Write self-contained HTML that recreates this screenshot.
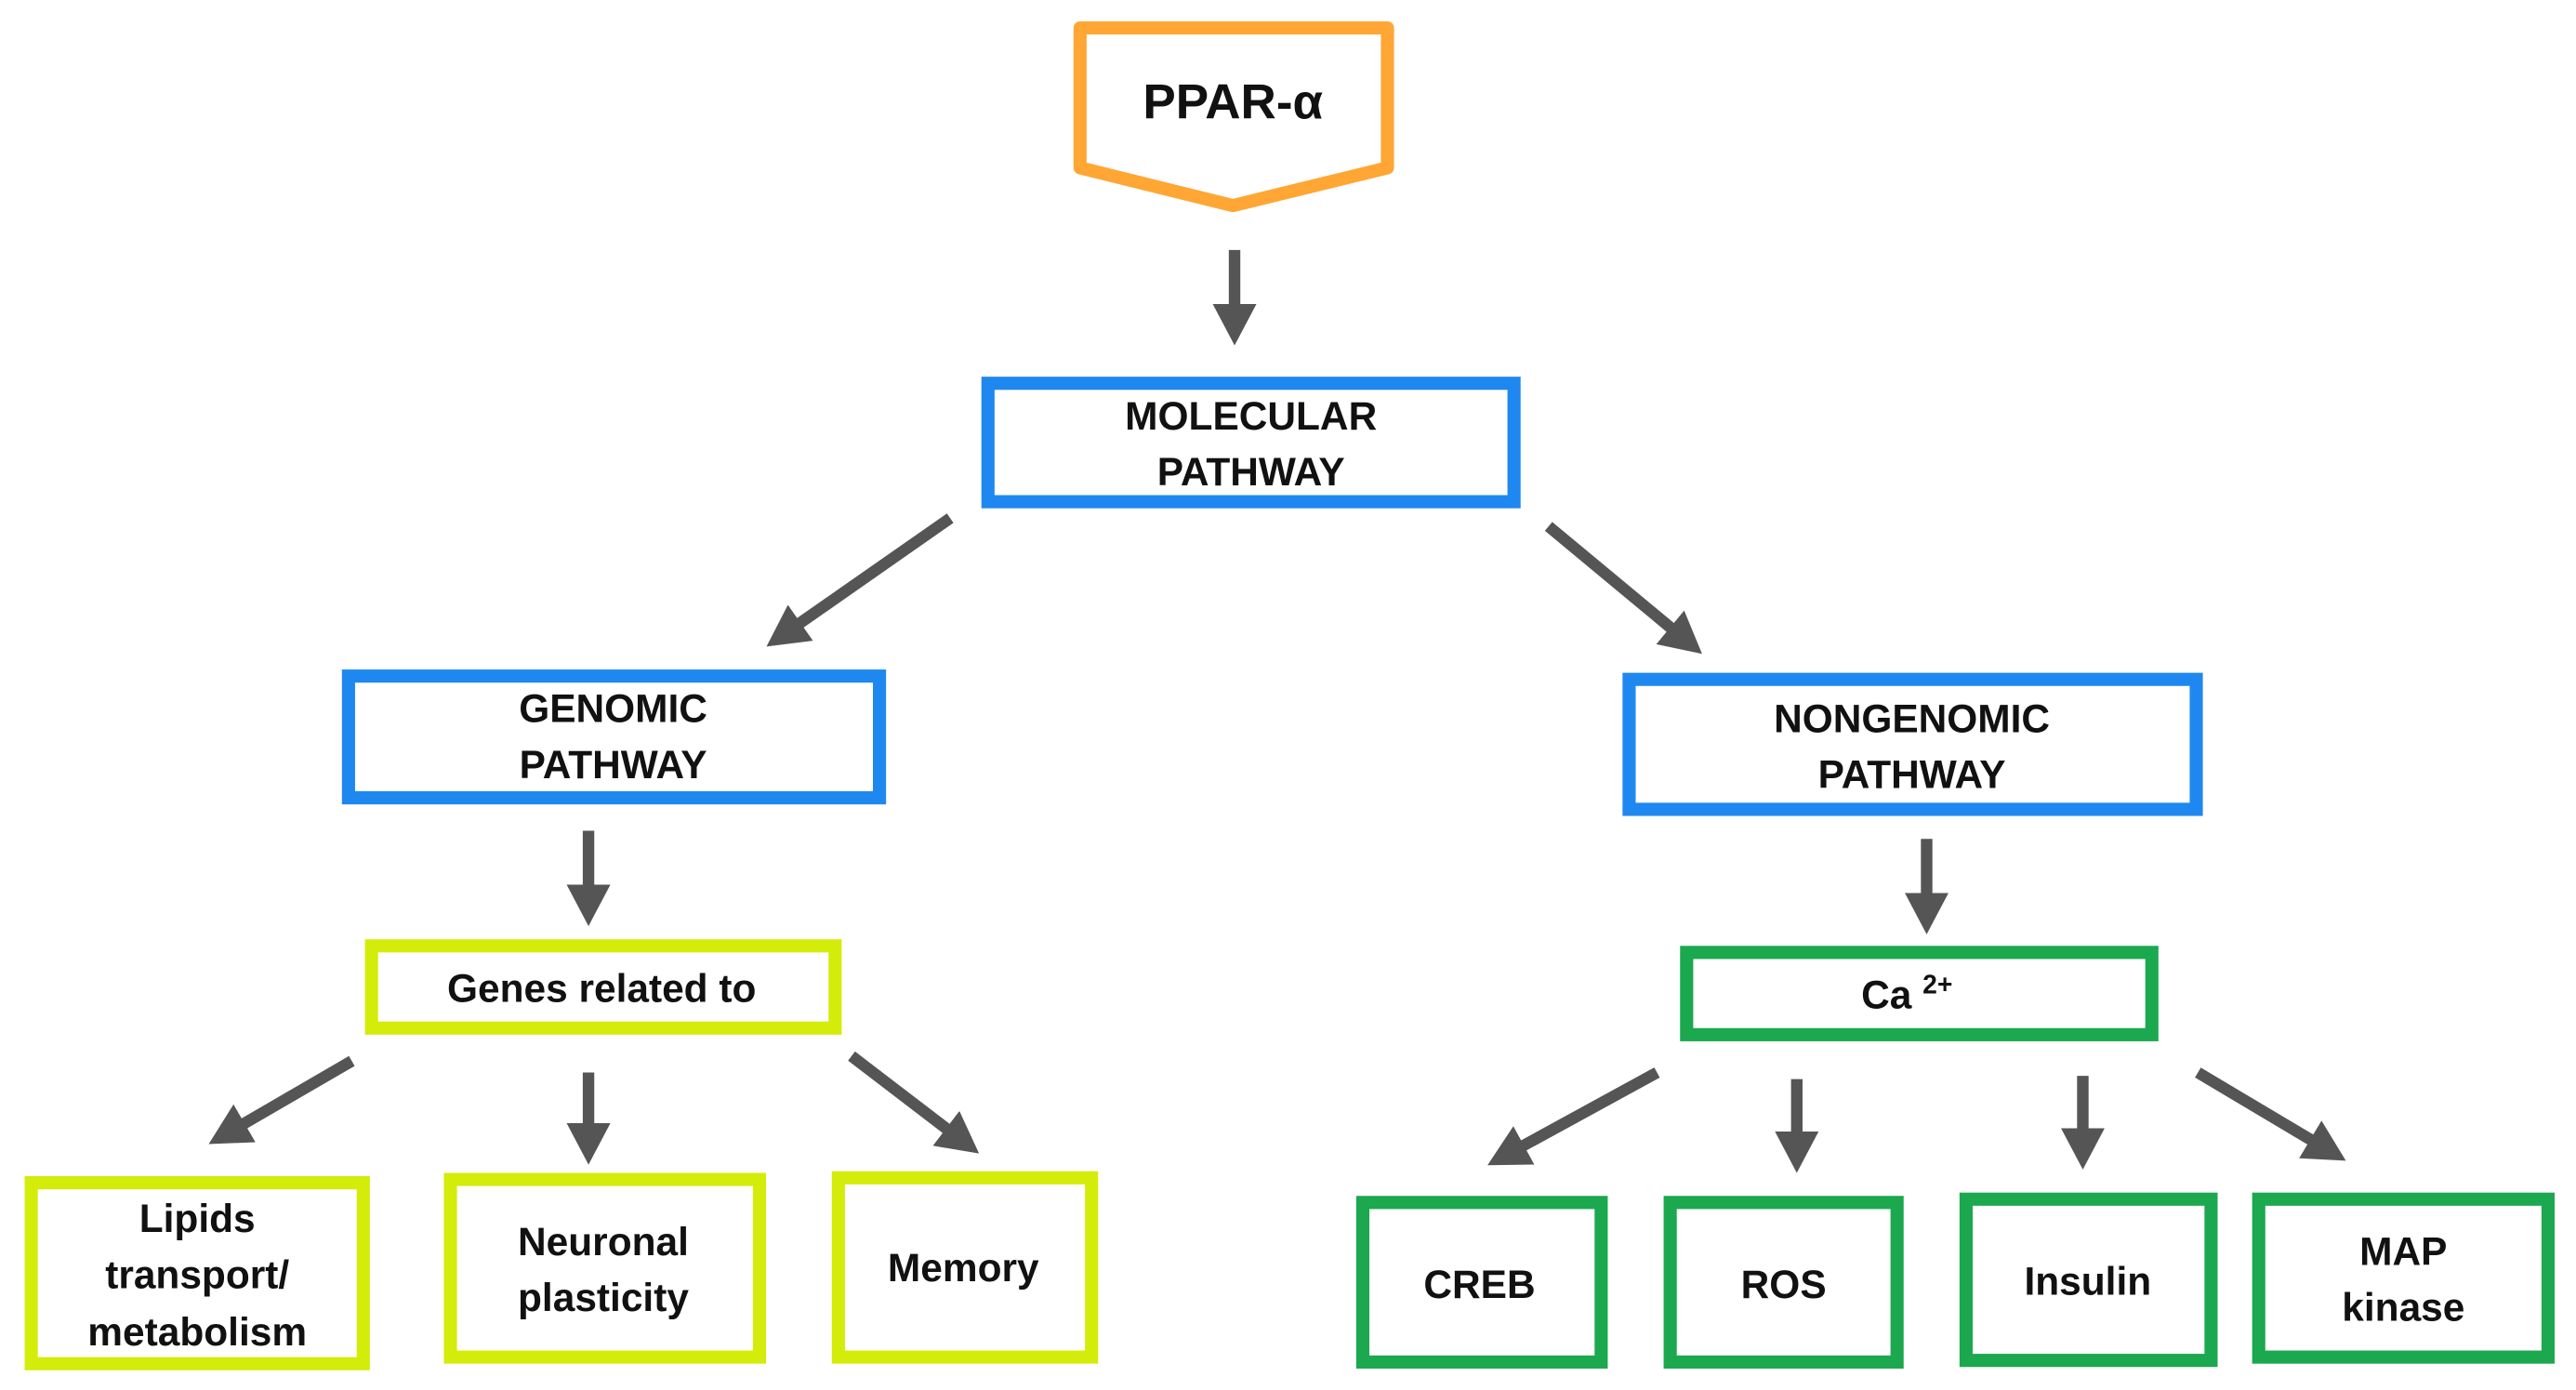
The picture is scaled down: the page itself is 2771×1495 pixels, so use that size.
<!DOCTYPE html>
<html><head><meta charset="utf-8"><style>
html,body{margin:0;padding:0;background:#fff;}
svg{display:block;}
text{font-family:"Liberation Sans",Arial,sans-serif;font-weight:bold;fill:#111;text-anchor:middle;}
</style></head><body>
<svg width="2771" height="1495" viewBox="0 0 1567 845" preserveAspectRatio="none" xmlns="http://www.w3.org/2000/svg">
<defs>
<marker id="ah" markerWidth="5" markerHeight="5" refX="2.6" refY="2.5" orient="auto" markerUnits="strokeWidth">
<path d="M0,0.6 L3.6,2.5 L0,4.4 z" fill="#555"/>
</marker>
</defs>
<g stroke="#555" stroke-width="7" fill="none" marker-end="url(#ah)">
<line x1="751" y1="152" x2="751" y2="203"/>
<line x1="578" y1="315" x2="472" y2="389"/>
<line x1="942" y1="320" x2="1030" y2="393"/>
<line x1="358" y1="505" x2="358" y2="556"/>
<line x1="1172" y1="510" x2="1172" y2="561"/>
<line x1="214" y1="645" x2="133" y2="692"/>
<line x1="358" y1="652" x2="358" y2="701"/>
<line x1="518" y1="642" x2="590" y2="697"/>
<line x1="1008" y1="652" x2="911" y2="705"/>
<line x1="1093" y1="656" x2="1093" y2="706"/>
<line x1="1267" y1="654" x2="1267" y2="704"/>
<line x1="1337" y1="652" x2="1421" y2="702"/>
</g>
<polygon points="657,17 844,17 844,102 750,125 657,102" fill="#fff" stroke="#FFA634" stroke-width="8" stroke-linejoin="round"/>
<text x="750" y="72" font-size="30">PPAR-α</text>
<g fill="#fff" stroke="#1E88F0" stroke-width="8">
<rect x="601" y="233" width="320" height="72"/>
<rect x="212" y="411" width="323" height="74"/>
<rect x="991" y="413" width="345" height="79"/>
</g>
<g fill="#fff" stroke="#D4EC0A" stroke-width="8">
<rect x="226" y="575" width="282" height="50"/>
<rect x="19" y="719" width="202" height="110"/>
<rect x="274" y="717" width="188" height="108"/>
<rect x="510" y="716" width="154" height="109"/>
</g>
<g fill="#fff" stroke="#1BA84F" stroke-width="8">
<rect x="1026" y="579" width="283" height="50"/>
<rect x="829" y="731" width="145" height="97"/>
<rect x="1016" y="731" width="138" height="97"/>
<rect x="1196" y="729" width="149" height="98"/>
<rect x="1374" y="729" width="176" height="96"/>
</g>
<g font-size="24">
<text x="761" y="261">MOLECULAR</text>
<text x="761" y="295">PATHWAY</text>
<text x="373" y="439">GENOMIC</text>
<text x="373" y="473">PATHWAY</text>
<text x="1163" y="445">NONGENOMIC</text>
<text x="1163" y="479">PATHWAY</text>
<text x="366" y="609">Genes related to</text>
<text x="1160" y="613">Ca <tspan font-size="16" dy="-9">2+</tspan></text>
<text x="120" y="749">Lipids</text>
<text x="120" y="783">transport/</text>
<text x="120" y="818">metabolism</text>
<text x="367" y="763">Neuronal</text>
<text x="367" y="797">plasticity</text>
<text x="586" y="779">Memory</text>
<text x="900" y="789">CREB</text>
<text x="1085" y="789">ROS</text>
<text x="1270" y="787">Insulin</text>
<text x="1462" y="769">MAP</text>
<text x="1462" y="803">kinase</text>
</g>
</svg>
</body></html>
